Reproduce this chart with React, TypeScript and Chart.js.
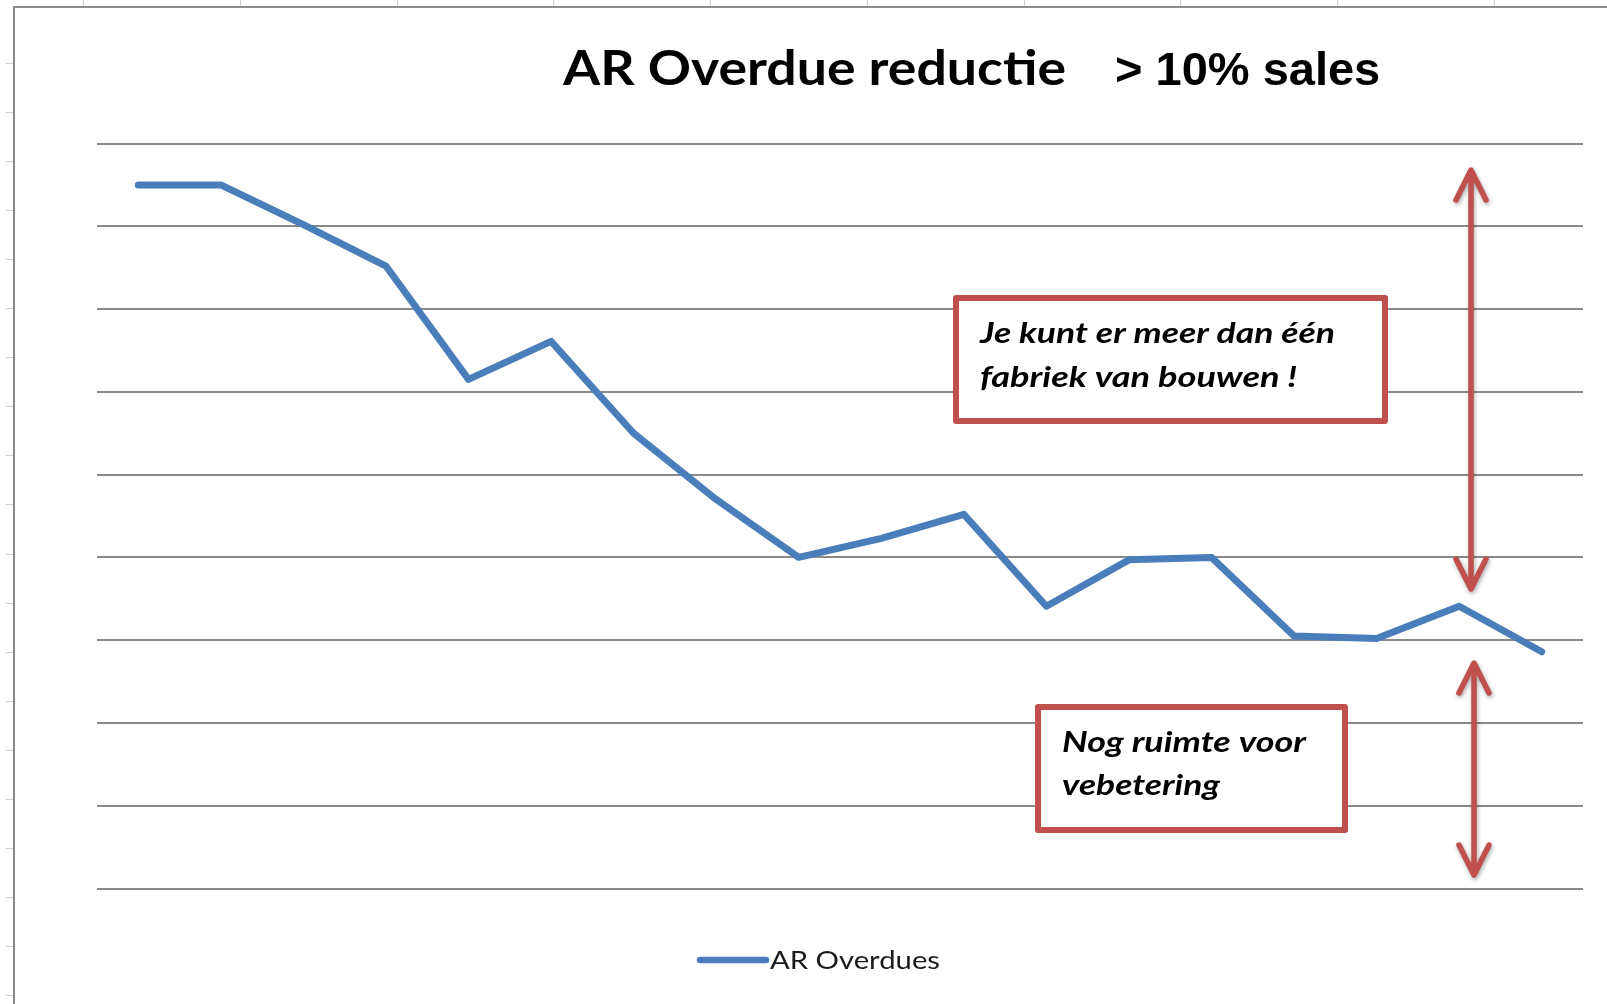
import React, { useEffect, useRef } from "react";
import { Chart, registerables } from "chart.js";

Chart.register(...registerables);

// ---- data ----
const categories = [
  "1", "2", "3", "4", "5", "6", "7", "8", "9",
  "10", "11", "12", "13", "14", "15", "16", "17", "18",
];
const arOverdues = [
  85, 85, 80.2, 75.2, 61.5, 66.1, 55, 47, 40,
  42.3, 45.2, 34.1, 39.7, 40, 30.5, 30.2, 34.1, 28.6,
];
const seriesLabel = "AR Overdues";
const yMin = 0;
const yMax = 90;
const yStep = 10;

const titleMain = "AR Overdue reductie";
const titleSub = "> 10% sales";
const noteTop = ["Je kunt er meer dan één", "fabriek van bouwen !"];
const noteBottom = ["Nog ruimte voor", "vebetering"];

const LINE_COLOR = "#4A7EBB";
const RED = "#C0504D";
const GRID = "#8a8a8a";

// draws text with a given cap height, horizontally scaled to a target width
function drawFitted(
  ctx: CanvasRenderingContext2D,
  text: string,
  x: number,
  baseline: number,
  capHeight: number,
  targetWidth: number,
  style: string,
  family: string,
  color: string
) {
  const size = capHeight / 0.72;
  ctx.save();
  ctx.font = `${style} ${size}px ${family}`;
  const w = ctx.measureText(text).width;
  const sx = targetWidth / w;
  ctx.translate(x, baseline);
  ctx.scale(sx, 1);
  ctx.fillStyle = color;
  ctx.textBaseline = "alphabetic";
  ctx.textAlign = "left";
  ctx.fillText(text, 0, 0);
  ctx.restore();
}

function drawArrow(ctx: CanvasRenderingContext2D, x: number, y1: number, y2: number) {
  const hw = 15;
  const hl = 30;
  ctx.save();
  ctx.strokeStyle = RED;
  ctx.lineWidth = 5.5;
  ctx.lineCap = "round";
  ctx.lineJoin = "round";
  ctx.shadowColor = "rgba(0,0,0,0.35)";
  ctx.shadowBlur = 4;
  ctx.shadowOffsetX = 1;
  ctx.shadowOffsetY = 2;
  ctx.beginPath();
  ctx.moveTo(x, y1 + 2);
  ctx.lineTo(x, y2 - 2);
  ctx.moveTo(x - hw, y1 + hl);
  ctx.lineTo(x, y1);
  ctx.lineTo(x + hw, y1 + hl);
  ctx.moveTo(x - hw, y2 - hl);
  ctx.lineTo(x, y2);
  ctx.lineTo(x + hw, y2 - hl);
  ctx.stroke();
  ctx.restore();
}

function drawBox(ctx: CanvasRenderingContext2D, l: number, t: number, r: number, b: number) {
  const lw = 6;
  ctx.save();
  ctx.fillStyle = "#ffffff";
  ctx.fillRect(l, t, r - l, b - t);
  ctx.strokeStyle = RED;
  ctx.lineWidth = lw;
  ctx.lineJoin = "round";
  ctx.strokeRect(l + lw / 2, t + lw / 2, r - l - lw, b - t - lw);
  ctx.restore();
}

const framePlugin = {
  id: "frame",
  beforeDraw(chart: any) {
    const ctx: CanvasRenderingContext2D = chart.ctx;
    const W = chart.width;
    const H = chart.height;
    ctx.save();
    ctx.fillStyle = "#ffffff";
    ctx.fillRect(0, 0, W, H);
    // sheet tick marks
    ctx.strokeStyle = "#cfcfcf";
    ctx.lineWidth = 1;
    ctx.beginPath();
    for (let y = 63; y < H; y += 49.05) {
      ctx.moveTo(6, Math.round(y) + 0.5);
      ctx.lineTo(14, Math.round(y) + 0.5);
    }
    for (let x = 83.3; x < W; x += 156.7) {
      ctx.moveTo(Math.round(x) + 0.5, 0);
      ctx.lineTo(Math.round(x) + 0.5, 6);
    }
    ctx.stroke();
    // frame border
    ctx.strokeStyle = "#8c8c8c";
    ctx.lineWidth = 2;
    ctx.beginPath();
    ctx.moveTo(14, H);
    ctx.lineTo(14, 7);
    ctx.lineTo(W, 7);
    ctx.stroke();
    ctx.restore();
  },
  afterDraw(chart: any) {
    const ctx: CanvasRenderingContext2D = chart.ctx;
    // title
    drawFitted(ctx, titleMain, 563, 85, 34, 503, "bold", "Lato", "#000");
    ctx.save();
    ctx.font = "bold 47px 'Liberation Sans'";
    ctx.fillStyle = "#000";
    ctx.textBaseline = "alphabetic";
    ctx.fillText(titleSub, 1115, 85);
    ctx.restore();

    // annotation boxes
    drawBox(ctx, 953, 295, 1388, 424);
    drawFitted(ctx, noteTop[0], 980, 343, 21, 355, "italic bold", "Lato", "#000");
    drawFitted(ctx, noteTop[1], 980, 387, 21, 317, "italic bold", "Lato", "#000");
    drawBox(ctx, 1035, 704, 1348, 833);
    drawFitted(ctx, noteBottom[0], 1062, 752, 20.5, 244, "italic bold", "Lato", "#000");
    drawFitted(ctx, noteBottom[1], 1062, 795, 20.5, 158, "italic bold", "Lato", "#000");

    // arrows
    drawArrow(ctx, 1471, 170, 589);
    drawArrow(ctx, 1474, 663, 875);

    // legend
    const ds = chart.data.datasets[0];
    ctx.save();
    ctx.strokeStyle = ds.borderColor;
    ctx.lineWidth = 6.5;
    ctx.lineCap = "round";
    ctx.beginPath();
    ctx.moveTo(700, 960);
    ctx.lineTo(766, 960);
    ctx.stroke();
    ctx.restore();
    drawFitted(ctx, ds.label, 770, 969, 17.5, 170, "normal", "Lato", "#1a1a1a");
  },
};

export default function App() {
  const ref = useRef<HTMLCanvasElement | null>(null);
  useEffect(() => {
    if (!ref.current) return;
    const chart = new Chart(ref.current, {
      type: "line",
      data: {
        labels: categories,
        datasets: [
          {
            label: seriesLabel,
            data: arOverdues,
            borderColor: LINE_COLOR,
            backgroundColor: LINE_COLOR,
            borderWidth: 7,
            borderJoinStyle: "round",
            borderCapStyle: "round",
            pointRadius: 0,
            pointHoverRadius: 0,
            tension: 0,
            fill: false,
          },
        ],
      },
      options: {
        animation: false,
        responsive: true,
        maintainAspectRatio: false,
        layout: { padding: { left: 97, right: 24, top: 143.5, bottom: 115.5 } },
        plugins: {
          legend: { display: false },
          title: { display: false },
          tooltip: { enabled: false },
        },
        scales: {
          x: {
            type: "category",
            display: false,
            offset: true,
          },
          y: {
            min: yMin,
            max: yMax,
            ticks: { display: false, stepSize: yStep },
            border: { display: false },
            grid: { color: GRID, lineWidth: 2, drawTicks: false },
          },
        },
      },
      plugins: [framePlugin],
    });
    return () => chart.destroy();
  }, []);
  return (
    <div style={{ position: "fixed", left: 0, top: 0, width: 1607, height: 1004, background: "#fff" }}>
      <canvas ref={ref} />
    </div>
  );
}
